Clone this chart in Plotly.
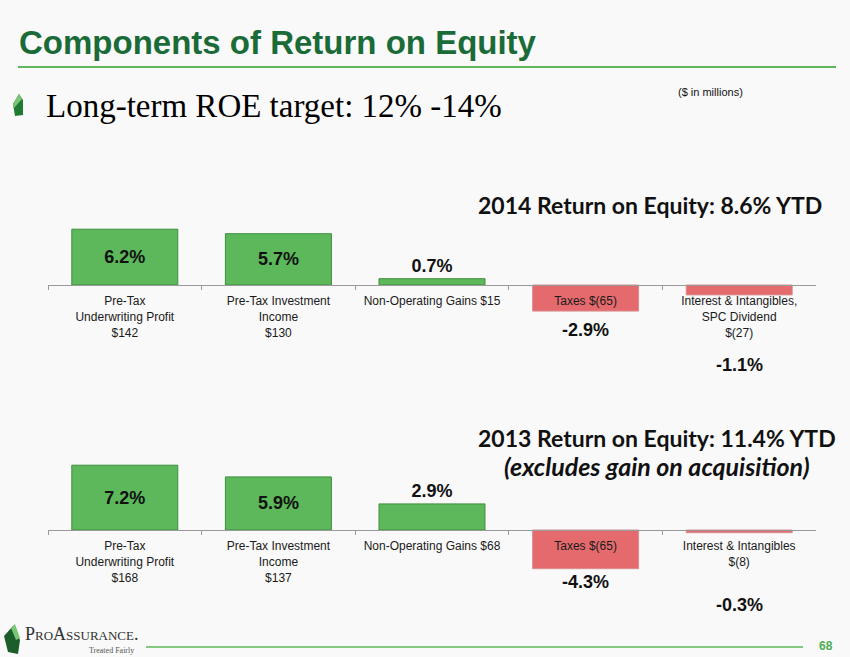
import plotly.graph_objects as go

# data
labels_2014 = ["Pre-Tax<br>Underwriting Profit<br>$142", "Pre-Tax Investment<br>Income<br>$130",
               "Non-Operating Gains $15", "Taxes $(65)",
               "Interest & Intangibles,<br>SPC Dividend<br>$(27)"]
roe_2014 = [6.2, 5.7, 0.7, -2.9, -1.1]

labels_2013 = ["Pre-Tax<br>Underwriting Profit<br>$168", "Pre-Tax Investment<br>Income<br>$137",
               "Non-Operating Gains $68", "Taxes $(65)",
               "Interest & Intangibles<br>$(8)"]
roe_2013 = [7.2, 5.9, 2.9, -4.3, -0.3]

# pixel offsets below the zero line for negative value labels
neg_shift_2014 = [0, 0, 0, 45, 80]
neg_shift_2013 = [0, 0, 0, 52, 75]

W, H = 850, 657
Y_RANGE = [-12, 8]
GREEN = "#5cb85a"
GREEN_EDGE = "#3f8f3f"
RED = "#e46a6d"
RED_EDGE = "#d98f8f"
BG = "#f9f9f9"
VAL_FONT = dict(family="Liberation Sans", size=18, color="#111111")


def py(p):
    return 1 - p / H


fig = go.Figure()

panels = [
    (labels_2014, roe_2014, neg_shift_2014, "x", "y", (213, 393)),
    (labels_2013, roe_2013, neg_shift_2013, "x2", "y2", (458, 638)),
]

annotations = []
for labels, vals, shifts, xa, ya, (top, bot) in panels:
    colors = [GREEN if v >= 0 else RED for v in vals]
    edges = [GREEN_EDGE if v >= 0 else RED_EDGE for v in vals]
    text = [f"<b>{v:.1f}%</b>" if v >= 0 else "" for v in vals]
    pos = ["inside" if v >= 3 else ("outside" if v >= 0 else "none") for v in vals]
    fig.add_trace(go.Bar(
        x=labels, y=vals, xaxis=xa, yaxis=ya,
        marker=dict(color=colors, line=dict(color=edges, width=1)),
        text=text, textposition=pos, insidetextanchor="middle",
        textfont=VAL_FONT,
        cliponaxis=False, showlegend=False, hoverinfo="skip",
    ))
    for lab, v, s in zip(labels, vals, shifts):
        if v < 0:
            annotations.append(dict(
                x=lab, y=0, xref=xa, yref=ya, yshift=-s, yanchor="middle",
                text=f"<b>{v:.1f}%</b>", showarrow=False, font=VAL_FONT))

axis_common = dict(
    type="category", domain=[48 / W, 816 / W], anchor="free",
    showline=True, linecolor="#9a9a9a", linewidth=1,
    ticks="outside", tickson="boundaries", ticklen=4, tickcolor="#9a9a9a",
    showgrid=False, tickangle=0, ticklabelstandoff=5,
    tickfont=dict(family="Liberation Sans", size=12, color="#1a1a1a"),
)
yaxis_common = dict(range=Y_RANGE, visible=False, showgrid=False, zeroline=False)


def zero_pos(top, bot):
    frac = (0 - Y_RANGE[0]) / (Y_RANGE[1] - Y_RANGE[0])
    return py(bot) + frac * (py(top) - py(bot))


fig.update_layout(
    xaxis=dict(axis_common, position=zero_pos(213, 393)),
    yaxis=dict(yaxis_common, domain=[py(393), py(213)]),
    xaxis2=dict(axis_common, position=zero_pos(458, 638)),
    yaxis2=dict(yaxis_common, domain=[py(638), py(458)]),
    bargap=0.31,
)

title_font = dict(family="Lato", size=23, color="#111111")
page_texts = [
    dict(x=17 / W, y=py(42), xanchor="left",
         text="<b>Components of Return on Equity</b>",
         font=dict(family="Liberation Sans", size=33, color="#1a6b38")),
    dict(x=44 / W, y=py(106), xanchor="left",
         text="Long-term ROE target: 12% -14%",
         font=dict(family="Liberation Serif", size=33, color="#000000")),
    dict(x=676 / W, y=py(92), xanchor="left",
         text="($ in millions)",
         font=dict(family="Liberation Sans", size=11, color="#111111")),
    dict(x=650 / W, y=py(205), xanchor="center",
         text="<b>2014 Return on Equity: 8.6% YTD</b>", font=title_font),
    dict(x=657 / W, y=py(438), xanchor="center",
         text="<b>2013 Return on Equity: 11.4% YTD</b>", font=title_font),
    dict(x=657 / W, y=py(466), xanchor="center",
         text="<b><i>(excludes gain on acquisition)</i></b>",
         font=dict(title_font, size=25)),
    dict(x=23 / W, y=py(634), xanchor="left",
         text="P<span style='font-size:13px'>RO</span>A<span style='font-size:13px'>SSURANCE</span>.",
         font=dict(family="Liberation Serif", size=18, color="#333333")),
    dict(x=136 / W, y=py(650), xanchor="right",
         text="Treated Fairly",
         font=dict(family="Liberation Serif", size=8, color="#555555")),
    dict(x=826 / W, y=py(646), xanchor="center",
         text="<b>68</b>",
         font=dict(family="Liberation Sans", size=12, color="#4caf50")),
]
for t in page_texts:
    t.update(xref="paper", yref="paper", yanchor="middle", showarrow=False)
annotations += page_texts

shapes = [
    dict(type="line", xref="paper", yref="paper", x0=18 / W, x1=836 / W,
         y0=py(67), y1=py(67), line=dict(color="#5cb85a", width=2)),
    dict(type="line", xref="paper", yref="paper", x0=146 / W, x1=803 / W,
         y0=py(647), y1=py(647), line=dict(color="#5cb85a", width=1.5)),
    # bullet leaf
    dict(type="path", xref="paper", yref="paper",
         path=f"M {13/W},{py(104)} L {19/W},{py(94)} L {23/W},{py(100)} L {23/W},{py(115)} "
              f"L {15/W},{py(116)} Z",
         fillcolor="#1f7a32", line=dict(width=0)),
    dict(type="path", xref="paper", yref="paper",
         path=f"M {13/W},{py(104)} L {19/W},{py(94)} L {22/W},{py(99)} L {14/W},{py(108)} Z",
         fillcolor="#7cc576", line=dict(width=0)),
    # logo leaf
    dict(type="path", xref="paper", yref="paper",
         path=f"M {4/W},{py(636)} L {13/W},{py(626)} L {20/W},{py(640)} L {18/W},{py(654)} "
              f"L {8/W},{py(652)} Z",
         fillcolor="#1b5e2a", line=dict(width=0)),
    dict(type="path", xref="paper", yref="paper",
         path=f"M {11/W},{py(628)} L {15/W},{py(624)} L {20/W},{py(638)} L {16/W},{py(640)} Z",
         fillcolor="#7cc576", line=dict(width=0)),
]

fig.update_layout(
    width=W, height=H,
    margin=dict(l=0, r=0, t=0, b=0),
    paper_bgcolor=BG, plot_bgcolor=BG,
    annotations=annotations, shapes=shapes,
    font=dict(family="Liberation Sans"),
)

fig.write_html("out.html", config={"displayModeBar": False},
               post_script="document.body.style.margin='0';")
